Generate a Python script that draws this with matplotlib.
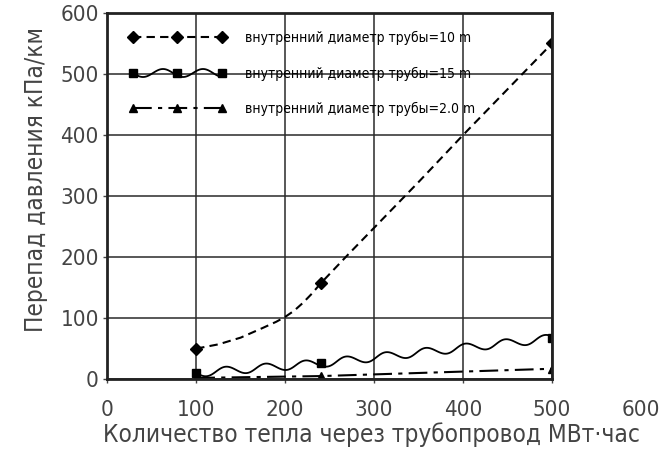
import matplotlib.pyplot as plt
from matplotlib.legend_handler import HandlerTuple

# points with markers (heat, MW*h) and the pressure drop
heat = [100, 240, 500]
drop_10 = [50, 157, 550]
drop_15 = [10, 26, 67]
drop_20 = [2, 5, 17]

# extra points for d=1.0 m
curve_10_x = [100, 125, 150, 175, 190, 200, 210, 220, 230, 240, 270, 300, 350, 400, 450, 500]
curve_10_y = [50, 57, 68, 84, 94, 102, 112, 125, 140, 157, 203, 248, 323, 400, 475, 550]

# dash-dot line for d=2.0 m
curve_20_x = [100, 240, 500]
curve_20_y = [2, 5, 17]

x_ticks = [0, 100, 200, 300, 400, 500]
y_ticks = [0, 100, 200, 300, 400, 500, 600]

labels = ["внутренний диаметр трубы=10 m",
          "внутренний диаметр трубы=15 m",
          "внутренний диаметр трубы=2.0 m"]

plt.rcParams['font.family'] = ['DejaVu Sans']
plt.rcParams['font.stretch'] = 'condensed'

fig = plt.figure(figsize=(6.66, 4.59), dpi=100)
ax = fig.add_axes([0.161, 0.174, 0.668, 0.798])

# d = 1.0 m
l1, = ax.plot(curve_10_x, curve_10_y, color="k", lw=1.5, ls=(0, (4, 2.5)))
m1, = ax.plot(heat, drop_10, ls="none", marker="D", ms=6, color="k")

# d = 1.5 m, wavy line
l2, = ax.plot(heat, drop_15, color="k", lw=1.3)
l2.set_sketch_params(scale=4, length=40, randomness=1)
m2, = ax.plot(heat, drop_15, ls="none", marker="s", ms=6, color="k")

# d = 2.0 m
l3, = ax.plot(curve_20_x, curve_20_y, color="k", lw=1.5, ls=(0, (9, 3, 2, 3)))
m3, = ax.plot(heat, drop_20, ls="none", marker="^", ms=6, color="k")

ax.set_xlim(0, 500)
ax.set_ylim(0, 600)
ax.set_xticks(x_ticks)
ax.set_yticks(y_ticks)
ax.grid(True, color="#2a2a2a", lw=1.1)
ax.tick_params(labelsize=16, colors="#444444", length=3, width=1)
ax.tick_params(axis="x", pad=12)
ax.tick_params(axis="y", pad=3)
for s in ax.spines.values():
    s.set_linewidth(2)
    s.set_color("#222222")

# the 600 tick label sits beyond the right edge of the frame
ax.annotate("600", xy=(600, 0), xycoords=("data", "axes fraction"),
            xytext=(0, -15), textcoords="offset points",
            ha="center", va="top", fontsize=16, color="#444444",
            annotation_clip=False)

ax.set_xlabel("Количество тепла через трубопровод МВт·час", fontsize=17.5, color="#444444", labelpad=2)
ax.set_ylabel("Перепад давления кПа/км", fontsize=17.5, color="#444444", labelpad=9)
ax.xaxis.label.set_x(0.593)
ax.yaxis.label.set_y(0.544)

leg = ax.legend([(l1, m1), (l2, m2), (l3, m3)], labels,
                handler_map={tuple: HandlerTuple(ndivide=1)},
                loc="upper left", bbox_to_anchor=(0.02, 0.985),
                frameon=False, fontsize=10, handlelength=7, numpoints=3,
                labelspacing=1.55, handletextpad=1.4)

fig.savefig("out.png", dpi=100)
